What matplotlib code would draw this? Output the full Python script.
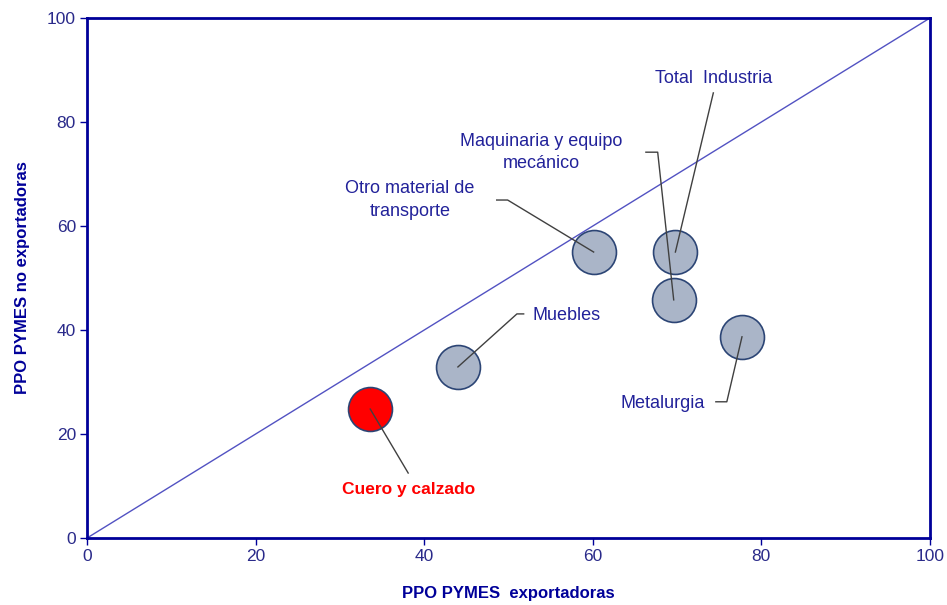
import matplotlib.pyplot as plt

plt.rcParams['font.family'] = ['Liberation Sans', 'DejaVu Sans']

# data: PPO of exporting vs non-exporting SMEs by sector
sectors = ["Cuero y calzado", "Muebles", "Otro material de\ntransporte",
           "Maquinaria y equipo\nmecánico", "Total  Industria", "Metalurgia"]
ppo_export = [33.6, 44.0, 60.1, 69.6, 69.8, 77.7]
ppo_no_export = [24.8, 32.9, 55.0, 45.8, 55.0, 38.7]
highlight = [True, False, False, False, False, False]

# label placement (data units): text anchor, elbow of leader line, end of leader line
label_xy = [(38.1, 9.4), (52.9, 42.7), (38.3, 65.0), (53.9, 74.2), (74.3, 88.3), (73.3, 25.8)]
elbow_xy = [None, (51.0, 43.1), (49.9, 65.0), (67.7, 74.2), None, (75.9, 26.2)]
end_xy = [(38.1, 12.5), (51.8, 43.1), (48.6, 65.0), (66.3, 74.2), (74.3, 85.6), (74.6, 26.2)]
label_ha = ["center", "left", "center", "center", "center", "right"]

navy = "#000099"
text_blue = "#22229a"

fig = plt.figure(figsize=(9.47, 6.05), dpi=100)
ax = fig.add_axes([0.0919, 0.1107, 0.8901, 0.8595])

ax.plot([0, 100], [0, 100], color="#5252c2", lw=1, zorder=1)

for i in range(len(sectors)):
    x, y = ppo_export[i], ppo_no_export[i]
    face = "#ff0000" if highlight[i] else "#aab5c8"
    ax.scatter(x, y, s=1000, facecolor=face, edgecolor="#2c4575", lw=1.2, zorder=3)

    pts = [(x, y)]
    if elbow_xy[i] is not None:
        pts.append(elbow_xy[i])
    pts.append(end_xy[i])
    ax.plot([p[0] for p in pts], [p[1] for p in pts], color="#404040", lw=1, zorder=4)

    tx, ty = label_xy[i]
    if highlight[i]:
        ax.text(tx, ty, sectors[i], color="#ff0000", fontsize=12.5, fontweight="bold",
                ha=label_ha[i], va="center", zorder=5)
    else:
        ax.text(tx, ty, sectors[i], color=text_blue, fontsize=13,
                ha=label_ha[i], va="center", linespacing=1.4, zorder=5)

ax.set_xlim(0, 100)
ax.set_ylim(0, 100)
ax.set_xticks(range(0, 101, 20))
ax.set_yticks(range(0, 101, 20))
for sp in ax.spines.values():
    sp.set_color(navy)
    sp.set_linewidth(2)
ax.tick_params(colors=navy, labelcolor="#2a2a8a", labelsize=12.5, length=5, width=1, pad=3)

ax.set_xlabel("PPO PYMES  exportadoras", color=navy, fontsize=12, fontweight="bold", labelpad=16)
ax.set_ylabel("PPO PYMES no exportadoras", color=navy, fontsize=12, fontweight="bold", labelpad=12)

fig.savefig("out.png", dpi=100)
